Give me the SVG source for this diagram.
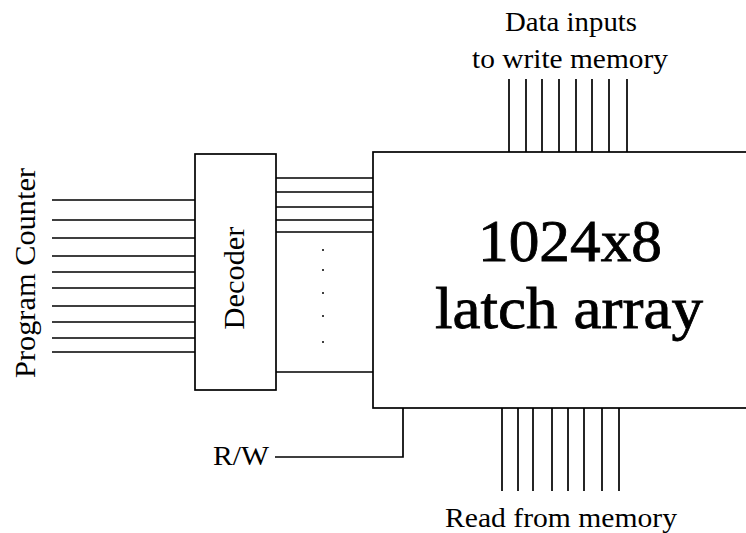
<svg xmlns="http://www.w3.org/2000/svg" width="746" height="533" viewBox="0 0 746 533">
<style>
.ln{stroke:#000;stroke-width:1.7;fill:none}
.box{stroke:#000;stroke-width:1.7;fill:#fff}
.serif{font-family:"Liberation Serif","Times New Roman",serif;fill:#000}
.big{stroke:#000;stroke-width:0.8}
</style>
<rect width="746" height="533" fill="#fff"/>
<g id="connectors">
  <g id="pc-bus">
    <path class="ln" d="M52 200H195M52 220H195M52 238H195M52 256H195M52 272H195M52 288H195M52 306H195M52 322H195M52 338H195M52 352H195"/>
  </g>
  <g id="decoder-outputs">
    <path class="ln" d="M276 178H373M276 192H373M276 207H373M276 220H373M276 232H373M276 372H373"/>
    <g fill="#000">
      <circle cx="323" cy="250" r="1"/>
      <circle cx="323" cy="270" r="1"/>
      <circle cx="323" cy="293" r="1"/>
      <circle cx="323" cy="316" r="1"/>
      <circle cx="323" cy="342" r="1"/>
    </g>
  </g>
  <g id="data-in-bus">
    <path class="ln" d="M509 79V152M526 79V152M542 79V152M559 79V152M576 79V152M592 79V152M609 79V152M627 79V152"/>
  </g>
  <g id="data-out-bus">
    <path class="ln" d="M502 408V491M518 408V491M533 408V491M552 408V491M568 408V491M584 408V491M602 408V491M619 408V491"/>
  </g>
  <g id="rw-line">
    <path class="ln" d="M275 457H403V408"/>
  </g>
</g>
<g id="program-counter">
  <text class="serif" font-size="29" transform="translate(35 273) rotate(-90)" text-anchor="middle" textLength="210" lengthAdjust="spacingAndGlyphs">Program Counter</text>
</g>
<g id="decoder">
  <rect class="box" x="195" y="154" width="81" height="236"/>
  <text class="serif" font-size="29" transform="translate(244 278) rotate(-90)" text-anchor="middle" textLength="103" lengthAdjust="spacingAndGlyphs">Decoder</text>
</g>
<g id="latch-array">
  <rect class="box" x="373" y="152" width="400" height="256"/>
  <text class="serif big" font-size="60" x="570" y="261" text-anchor="middle" textLength="184" lengthAdjust="spacingAndGlyphs">1024x8</text>
  <text class="serif big" font-size="60" x="569" y="328" text-anchor="middle" textLength="268" lengthAdjust="spacingAndGlyphs">latch array</text>
</g>
<g id="data-in-label">
  <text class="serif" font-size="28" x="571" y="31" text-anchor="middle" textLength="132" lengthAdjust="spacingAndGlyphs">Data inputs</text>
  <text class="serif" font-size="28" x="570" y="68" text-anchor="middle" textLength="196" lengthAdjust="spacingAndGlyphs">to write memory</text>
</g>
<g id="data-out-label">
  <text class="serif" font-size="28" x="561" y="527" text-anchor="middle" textLength="232" lengthAdjust="spacingAndGlyphs">Read from memory</text>
</g>
<g id="rw-label">
  <text class="serif" font-size="28" x="213" y="465" textLength="56" lengthAdjust="spacingAndGlyphs">R/W</text>
</g>
</svg>
